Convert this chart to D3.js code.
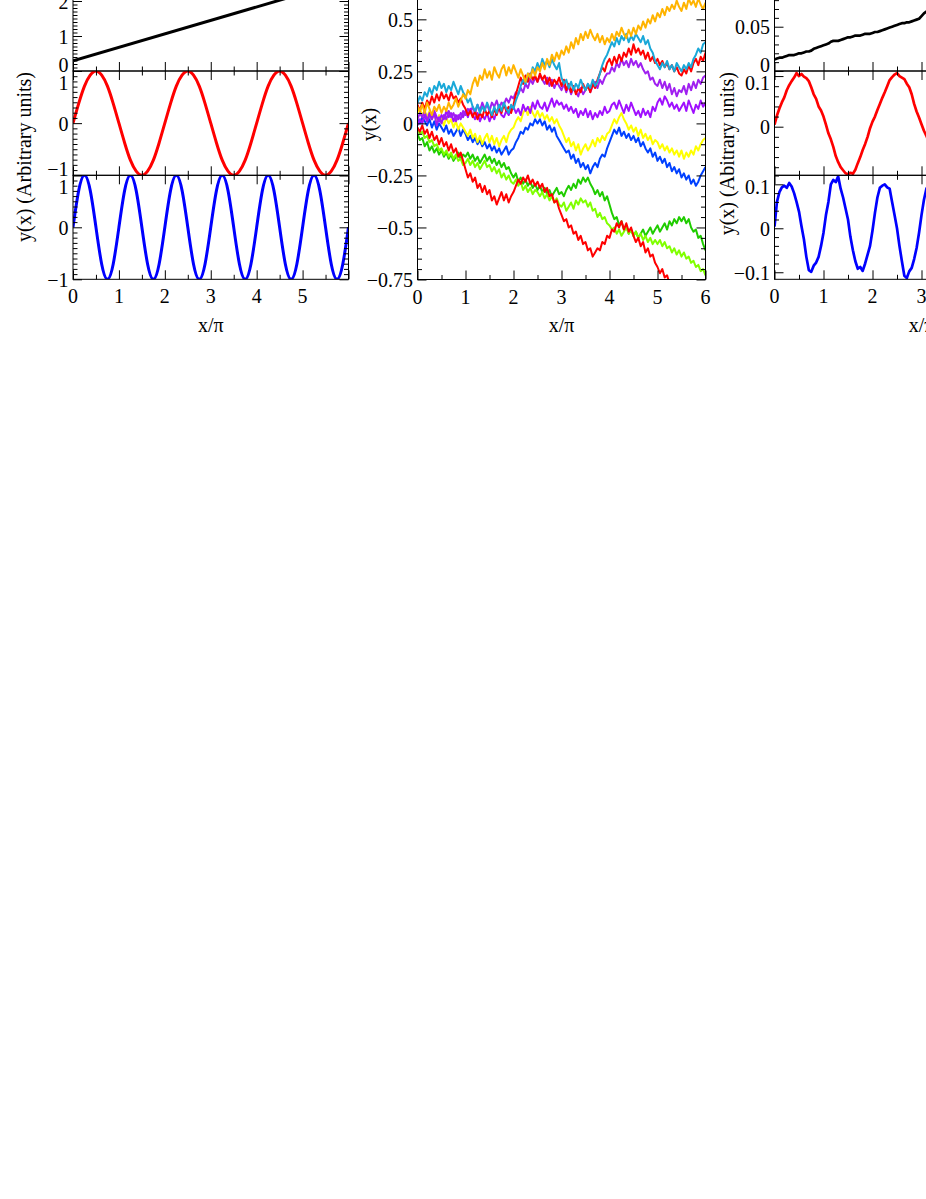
<!DOCTYPE html>
<html><head><meta charset="utf-8">
<script src="https://cdn.jsdelivr.net/npm/d3@7"></script>
<style>
body{margin:0;background:#fff}
svg{display:block}
text{font-family:"Liberation Serif","Times New Roman",serif;font-size:20px;fill:#000}
</style>
</head><body>
<svg id="c" width="926" height="1199"></svg>
<script>
// ================= DATA =================
// Left panel (x in units of pi), sampled every 0.125
const leftStep = 0.125;
const leftBlackX = [0, 6];
const leftBlackY = [0.29, 2.6];
const leftRed = [0,0.38,0.71,0.92,1,0.92,0.71,0.38,0,-0.38,-0.71,-0.92,-1,-0.92,-0.71,-0.38,
                 0,0.38,0.71,0.92,1,0.92,0.71,0.38,0,-0.38,-0.71,-0.92,-1,-0.92,-0.71,-0.38,
                 0,0.38,0.71,0.92,1,0.92,0.71,0.38,0,-0.38,-0.71,-0.92,-1,-0.92,-0.71,-0.38,0];
const leftBlue = [0,0.71,1,0.71,0,-0.71,-1,-0.71, 0,0.71,1,0.71,0,-0.71,-1,-0.71,
                  0,0.71,1,0.71,0,-0.71,-1,-0.71, 0,0.71,1,0.71,0,-0.71,-1,-0.71,
                  0,0.71,1,0.71,0,-0.71,-1,-0.71, 0,0.71,1,0.71,0,-0.71,-1,-0.71,0];

// Middle panel: ten random walks, sampled every 0.05
const walkStep = 0.05;
const walkGreen = [
  -0.05,-0.08,-0.07,-0.11,-0.09,-0.13,-0.11,-0.14,-0.12,-0.15,
  -0.13,-0.16,-0.14,-0.17,-0.15,-0.18,-0.16,-0.14,-0.17,-0.15,
  -0.16,-0.14,-0.17,-0.15,-0.18,-0.16,-0.19,-0.17,-0.15,-0.18,
  -0.16,-0.19,-0.17,-0.20,-0.18,-0.21,-0.19,-0.22,-0.21,-0.24,
  -0.26,-0.24,-0.28,-0.26,-0.29,-0.27,-0.30,-0.28,-0.31,-0.29,
  -0.32,-0.30,-0.33,-0.31,-0.34,-0.32,-0.35,-0.33,-0.31,-0.34,
  -0.33,-0.35,-0.32,-0.30,-0.32,-0.29,-0.31,-0.27,-0.29,-0.26,
  -0.28,-0.26,-0.29,-0.31,-0.34,-0.32,-0.35,-0.33,-0.37,-0.35,
  -0.39,-0.43,-0.46,-0.45,-0.49,-0.47,-0.51,-0.49,-0.53,-0.51,
  -0.54,-0.52,-0.55,-0.53,-0.51,-0.54,-0.52,-0.50,-0.53,-0.51,
  -0.49,-0.52,-0.50,-0.48,-0.51,-0.47,-0.49,-0.46,-0.48,-0.45,
  -0.47,-0.45,-0.48,-0.46,-0.50,-0.52,-0.51,-0.55,-0.54,-0.58,-0.61];
const walkLightGreen = [
  -0.03,-0.05,-0.04,-0.07,-0.06,-0.09,-0.08,-0.11,-0.10,-0.13,
  -0.12,-0.15,-0.13,-0.16,-0.14,-0.17,-0.15,-0.18,-0.17,-0.20,
  -0.19,-0.17,-0.20,-0.18,-0.21,-0.19,-0.22,-0.20,-0.18,-0.21,
  -0.20,-0.23,-0.21,-0.24,-0.22,-0.26,-0.24,-0.27,-0.25,-0.28,
  -0.29,-0.27,-0.30,-0.28,-0.32,-0.30,-0.33,-0.31,-0.34,-0.32,
  -0.33,-0.35,-0.33,-0.36,-0.34,-0.37,-0.35,-0.38,-0.36,-0.39,
  -0.40,-0.38,-0.42,-0.40,-0.38,-0.41,-0.37,-0.39,-0.36,-0.38,
  -0.37,-0.40,-0.38,-0.42,-0.41,-0.45,-0.43,-0.46,-0.45,-0.48,
  -0.49,-0.51,-0.50,-0.53,-0.51,-0.54,-0.52,-0.50,-0.53,-0.51,
  -0.54,-0.52,-0.55,-0.53,-0.56,-0.54,-0.57,-0.55,-0.58,-0.56,
  -0.58,-0.56,-0.59,-0.57,-0.60,-0.59,-0.62,-0.60,-0.63,-0.61,
  -0.64,-0.62,-0.65,-0.64,-0.67,-0.66,-0.69,-0.68,-0.71,-0.70,-0.73];
const walkRedLow = [
  -0.02,-0.04,-0.01,-0.05,-0.03,-0.07,-0.04,-0.08,-0.06,-0.10,
  -0.07,-0.11,-0.09,-0.13,-0.10,-0.14,-0.12,-0.16,-0.14,-0.18,
  -0.22,-0.26,-0.24,-0.28,-0.26,-0.31,-0.29,-0.33,-0.30,-0.34,
  -0.32,-0.37,-0.35,-0.39,-0.36,-0.33,-0.37,-0.34,-0.38,-0.35,
  -0.33,-0.30,-0.27,-0.29,-0.26,-0.28,-0.25,-0.29,-0.27,-0.30,
  -0.28,-0.31,-0.29,-0.33,-0.31,-0.35,-0.34,-0.38,-0.37,-0.41,
  -0.44,-0.47,-0.46,-0.50,-0.49,-0.53,-0.52,-0.56,-0.54,-0.58,
  -0.57,-0.61,-0.60,-0.64,-0.62,-0.60,-0.61,-0.57,-0.58,-0.54,
  -0.55,-0.51,-0.52,-0.48,-0.50,-0.47,-0.51,-0.48,-0.52,-0.50,
  -0.54,-0.57,-0.55,-0.59,-0.57,-0.62,-0.60,-0.64,-0.63,-0.67,
  -0.69,-0.72,-0.70,-0.74,-0.73,-0.77,-0.76,-0.80,-0.79,-0.83,
  -0.82,-0.86,-0.85,-0.88,-0.87,-0.90,-0.89,-0.92,-0.91,-0.94,-0.95];
const walkBlue = [
  0.02,0.00,0.03,0.01,-0.01,0.02,-0.02,0.01,-0.03,0.00,
  -0.02,-0.04,-0.01,-0.05,-0.03,-0.06,-0.04,-0.02,-0.06,-0.03,
  -0.05,-0.08,-0.06,-0.09,-0.07,-0.10,-0.08,-0.11,-0.09,-0.12,
  -0.10,-0.13,-0.11,-0.14,-0.12,-0.15,-0.13,-0.11,-0.15,-0.13,
  -0.12,-0.09,-0.07,-0.04,-0.05,-0.02,-0.03,0.00,-0.01,0.02,
  0.00,0.02,-0.01,0.01,-0.03,-0.01,-0.04,-0.02,-0.06,-0.08,
  -0.10,-0.12,-0.14,-0.13,-0.17,-0.15,-0.19,-0.17,-0.21,-0.19,
  -0.22,-0.20,-0.24,-0.21,-0.19,-0.21,-0.17,-0.15,-0.16,-0.12,
  -0.09,-0.06,-0.03,-0.05,-0.02,-0.06,-0.04,-0.07,-0.05,-0.08,
  -0.06,-0.09,-0.07,-0.11,-0.09,-0.12,-0.14,-0.12,-0.16,-0.14,
  -0.18,-0.16,-0.19,-0.17,-0.21,-0.19,-0.23,-0.21,-0.24,-0.22,
  -0.26,-0.24,-0.27,-0.25,-0.29,-0.27,-0.30,-0.28,-0.25,-0.23,-0.21];
const walkYellow = [
  0.05,0.07,0.04,0.06,0.03,0.06,0.02,0.05,0.01,0.04,
  0.02,-0.01,0.03,0.00,0.02,-0.02,0.01,-0.03,0.00,-0.02,
  -0.04,-0.06,-0.03,-0.07,-0.05,-0.09,-0.06,-0.10,-0.07,-0.05,
  -0.09,-0.06,-0.10,-0.07,-0.11,-0.08,-0.06,-0.09,-0.05,-0.03,
  -0.02,0.01,0.03,0.01,0.05,0.07,0.04,0.08,0.05,0.03,
  0.06,0.03,0.05,0.02,0.04,0.01,0.03,0.00,0.02,-0.01,
  -0.03,-0.06,-0.09,-0.07,-0.11,-0.09,-0.13,-0.10,-0.15,-0.12,
  -0.10,-0.13,-0.11,-0.08,-0.11,-0.07,-0.09,-0.06,-0.08,-0.05,
  -0.04,-0.01,0.02,0.00,0.03,0.05,0.02,0.00,-0.03,-0.01,
  -0.04,-0.02,-0.06,-0.03,-0.07,-0.05,-0.08,-0.06,-0.10,-0.08,
  -0.09,-0.12,-0.10,-0.13,-0.11,-0.14,-0.12,-0.15,-0.13,-0.16,
  -0.13,-0.17,-0.14,-0.16,-0.13,-0.15,-0.11,-0.13,-0.10,-0.08,-0.07];
const walkPurpleLow = [
  -0.01,0.02,0.00,0.04,0.01,0.05,0.02,0.06,0.03,0.01,
  0.04,0.02,0.06,0.03,0.05,0.01,0.04,0.02,0.05,0.03,
  0.06,0.03,0.07,0.04,0.02,0.05,0.01,0.04,0.02,0.05,
  0.01,0.04,0.02,0.06,0.07,0.04,0.03,0.06,0.04,0.07,
  0.08,0.05,0.07,0.04,0.09,0.06,0.08,0.05,0.10,0.07,
  0.11,0.08,0.07,0.10,0.06,0.09,0.12,0.08,0.11,0.09,
  0.10,0.07,0.09,0.06,0.08,0.05,0.07,0.03,0.06,0.04,
  0.07,0.03,0.06,0.02,0.05,0.03,0.06,0.04,0.08,0.05,
  0.06,0.09,0.10,0.07,0.11,0.08,0.05,0.09,0.06,0.10,
  0.07,0.04,0.06,0.03,0.07,0.04,0.06,0.03,0.08,0.06,
  0.10,0.12,0.09,0.13,0.11,0.08,0.10,0.07,0.09,0.06,
  0.08,0.10,0.06,0.11,0.08,0.05,0.09,0.07,0.11,0.08,0.10];
const walkPurpleHigh = [
  0.02,0.05,0.03,0.06,0.01,0.04,0.02,0.05,-0.01,0.03,
  0.00,0.04,0.02,0.06,0.03,0.05,0.01,0.04,0.02,0.06,
  0.04,0.07,0.05,0.08,0.05,0.09,0.06,0.10,0.07,0.09,
  0.06,0.10,0.08,0.11,0.07,0.10,0.09,0.12,0.10,0.13,
  0.12,0.15,0.14,0.17,0.15,0.19,0.17,0.21,0.19,0.22,
  0.20,0.23,0.21,0.19,0.22,0.18,0.21,0.17,0.20,0.18,
  0.16,0.19,0.15,0.18,0.14,0.17,0.15,0.13,0.17,0.14,
  0.16,0.19,0.15,0.18,0.20,0.17,0.21,0.19,0.22,0.24,
  0.24,0.27,0.25,0.29,0.27,0.31,0.28,0.30,0.27,0.31,
  0.28,0.30,0.27,0.29,0.26,0.24,0.25,0.21,0.22,0.19,
  0.18,0.21,0.17,0.20,0.16,0.19,0.14,0.17,0.13,0.16,
  0.15,0.18,0.14,0.19,0.16,0.20,0.17,0.21,0.19,0.22,0.23];
const walkRedHigh = [
  0.09,0.06,0.10,0.07,0.11,0.09,0.13,0.10,0.14,0.11,
  0.15,0.12,0.14,0.11,0.15,0.12,0.13,0.10,0.12,0.09,
  0.07,0.04,0.06,0.03,0.06,0.02,0.05,0.03,0.07,0.04,
  0.06,0.03,0.07,0.04,0.08,0.05,0.09,0.06,0.08,0.05,
  0.09,0.14,0.18,0.22,0.19,0.23,0.20,0.24,0.21,0.23,
  0.20,0.24,0.21,0.23,0.19,0.22,0.18,0.21,0.19,0.22,
  0.18,0.21,0.16,0.19,0.15,0.18,0.14,0.17,0.15,0.19,
  0.16,0.18,0.15,0.19,0.17,0.21,0.24,0.27,0.25,0.29,
  0.31,0.28,0.32,0.29,0.33,0.30,0.34,0.32,0.36,0.33,
  0.38,0.34,0.36,0.33,0.35,0.31,0.34,0.30,0.32,0.29,
  0.31,0.28,0.30,0.27,0.29,0.26,0.28,0.25,0.27,0.24,
  0.23,0.26,0.24,0.28,0.25,0.29,0.31,0.28,0.32,0.30,0.34];
const walkCyan = [
  0.10,0.13,0.11,0.15,0.13,0.17,0.14,0.18,0.16,0.20,
  0.17,0.19,0.15,0.18,0.16,0.20,0.17,0.14,0.18,0.15,
  0.13,0.10,0.12,0.08,0.06,0.09,0.05,0.08,0.06,0.10,
  0.07,0.04,0.08,0.05,0.09,0.06,0.10,0.07,0.05,0.09,
  0.07,0.11,0.14,0.18,0.21,0.19,0.24,0.22,0.27,0.25,
  0.29,0.26,0.31,0.28,0.30,0.27,0.31,0.28,0.26,0.29,
  0.22,0.19,0.21,0.17,0.20,0.16,0.19,0.17,0.21,0.18,
  0.16,0.19,0.17,0.21,0.18,0.20,0.24,0.28,0.31,0.33,
  0.36,0.39,0.37,0.41,0.38,0.42,0.40,0.43,0.39,0.42,
  0.40,0.43,0.41,0.39,0.42,0.38,0.40,0.36,0.34,0.30,
  0.28,0.26,0.29,0.27,0.30,0.26,0.28,0.25,0.29,0.27,
  0.25,0.28,0.26,0.29,0.27,0.31,0.33,0.36,0.34,0.38,0.39];
const walkOrange = [
  0.08,0.06,0.09,0.05,0.10,0.07,0.04,0.08,0.06,0.09,
  0.05,0.08,0.06,0.10,0.07,0.09,0.12,0.08,0.11,0.14,
  0.12,0.16,0.14,0.19,0.22,0.18,0.23,0.21,0.26,0.22,
  0.25,0.21,0.27,0.24,0.22,0.26,0.28,0.23,0.27,0.24,
  0.28,0.25,0.22,0.26,0.23,0.20,0.24,0.22,0.26,0.23,
  0.27,0.25,0.29,0.26,0.31,0.28,0.33,0.30,0.34,0.31,
  0.35,0.33,0.37,0.34,0.39,0.36,0.41,0.38,0.43,0.40,
  0.44,0.41,0.45,0.42,0.40,0.43,0.39,0.42,0.38,0.41,
  0.39,0.43,0.40,0.44,0.42,0.46,0.43,0.41,0.45,0.42,
  0.46,0.43,0.47,0.45,0.49,0.46,0.50,0.48,0.52,0.49,
  0.53,0.51,0.55,0.52,0.56,0.54,0.57,0.55,0.59,0.56,
  0.54,0.58,0.55,0.60,0.57,0.59,0.56,0.60,0.57,0.55,0.58];
const walkColors = ["#20cc00","#80ff00","#ff0000","#0040ff","#ffff00","#a010ff","#a020f0","#ff0000","#1aa8d8","#ffb400"];

// Right panel: noisy versions (visible part, x up to ~3.2), sampled every 0.05
const rightStep = 0.05;
const rightBlack = [
  0.013,0.014,0.015,0.015,0.016,0.017,0.018,0.018,0.018,0.019,
  0.020,0.020,0.021,0.022,0.022,0.023,0.025,0.026,0.027,0.028,
  0.029,0.030,0.031,0.033,0.034,0.034,0.034,0.035,0.036,0.037,
  0.038,0.038,0.039,0.040,0.040,0.040,0.041,0.042,0.042,0.042,
  0.043,0.044,0.044,0.045,0.046,0.047,0.048,0.049,0.050,0.051,
  0.052,0.053,0.054,0.054,0.055,0.055,0.056,0.057,0.058,0.059,
  0.062,0.065,0.067,0.069,0.070];
const rightRed = [
  0.004,0.022,0.036,0.048,0.058,0.072,0.082,0.090,0.097,0.106,
  0.100,0.104,0.099,0.096,0.090,0.078,0.064,0.055,0.040,0.032,
  0.020,0.004,-0.013,-0.025,-0.040,-0.058,-0.070,-0.080,-0.086,-0.092,
  -0.094,-0.091,-0.093,-0.085,-0.072,-0.060,-0.046,-0.034,-0.020,-0.003,
  0.010,0.020,0.033,0.045,0.057,0.068,0.080,0.092,0.098,0.103,
  0.106,0.100,0.097,0.094,0.085,0.078,0.064,0.045,0.030,0.018,
  0.005,-0.008,-0.018,-0.030,-0.042];
const rightBlue = [
  0.004,0.060,0.082,0.093,0.097,0.092,0.103,0.095,0.080,0.060,
  0.038,0.005,-0.025,-0.065,-0.095,-0.099,-0.085,-0.078,-0.065,-0.040,
  -0.010,0.030,0.060,0.100,0.110,0.105,0.118,0.090,0.070,0.045,
  0.020,-0.020,-0.050,-0.075,-0.092,-0.088,-0.097,-0.080,-0.060,-0.040,
  -0.005,0.035,0.070,0.092,0.097,0.100,0.093,0.090,0.060,0.030,
  0.000,-0.040,-0.075,-0.108,-0.113,-0.098,-0.090,-0.070,-0.045,-0.010,
  0.030,0.065,0.090,0.100,0.098];

const xTickLabelsLeft = [0,1,2,3,4,5];
const xTickLabelsMid = [0,1,2,3,4,5,6];
const xTickLabelsRight = [0,1,2,3];
const yTitleLeft = "y(x) (Arbitrary units)";
const yTitleMid = "y(x)";
const yTitleRight = "y(x) (Abitrary units)";
const xTitle = "x/\u03c0";

// ================= DRAWING =================
const svg = d3.select("#c");
svg.append("rect").attr("width",926).attr("height",1199).attr("fill","#fff");
const fmt = d3.format("~g");
let clipCount = 0;

function tickVals(domain, step) {
  const lo = Math.min(domain[0], domain[1]), hi = Math.max(domain[0], domain[1]);
  const out = [];
  for (let k = Math.ceil(lo / step - 1e-6); k <= Math.floor(hi / step + 1e-6); k++) out.push(+(k * step).toFixed(6));
  return out;
}
function splitTicks(domain, major, minor) {
  const M = tickVals(domain, major);
  const m = tickVals(domain, minor).filter(v => !M.some(w => Math.abs(w - v) < 1e-9));
  return [M, m];
}
function tickMarks(g, axisFn, scale, tx, ty, vals, size) {
  const a = g.append("g").attr("transform", `translate(${tx},${ty})`)
    .call(axisFn(scale).tickValues(vals).tickSize(-size).tickFormat(""));
  a.select(".domain").remove();
  a.selectAll("text").remove();
  a.selectAll("line").attr("stroke", "#000").attr("stroke-width", 1);
}

function panel(cfg) {
  const x = d3.scaleLinear().domain(cfg.xDomain).range([cfg.x0, cfg.x1]);
  const [xM, xm] = splitTicks(cfg.xDomain, 1, 0.5);
  const n = cfg.subplots.length;
  cfg.subplots.forEach((sp, i) => {
    const y = d3.scaleLinear().domain(sp.domain).range([sp.bottom, sp.top]);
    const g = svg.append("g");
    const id = "clip" + (clipCount++);
    svg.append("clipPath").attr("id", id).append("rect")
      .attr("x", cfg.x0).attr("y", sp.top).attr("width", cfg.x1 - cfg.x0).attr("height", sp.bottom - sp.top);
    const lines = g.append("g").attr("clip-path", `url(#${id})`);
    sp.series.forEach(s => {
      const line = d3.line()
        .x((d, j) => x(s.xs ? s.xs[j] : j * s.step))
        .y(d => y(d))
        .curve(s.curve || d3.curveLinear);
      lines.append("path").datum(s.values).attr("d", line)
        .attr("fill", "none").attr("stroke", s.color).attr("stroke-width", s.width)
        .attr("stroke-linejoin", "round").attr("stroke-linecap", "butt");
    });
    // frame
    g.append("rect").attr("x", cfg.x0).attr("y", sp.top).attr("width", cfg.x1 - cfg.x0)
      .attr("height", sp.bottom - sp.top).attr("fill", "none").attr("stroke", "#000").attr("stroke-width", 1);
    // x ticks (bottom and top, inward)
    tickMarks(g, d3.axisBottom, x, 0, sp.bottom, xM, 9);
    tickMarks(g, d3.axisBottom, x, 0, sp.bottom, xm, 4.5);
    tickMarks(g, d3.axisTop, x, 0, sp.top, xM, 9);
    tickMarks(g, d3.axisTop, x, 0, sp.top, xm, 4.5);
    // y ticks (left and right, inward)
    const [yM, ym] = splitTicks(sp.domain, sp.major, sp.minor);
    tickMarks(g, d3.axisLeft, y, cfg.x0, 0, yM, 9);
    tickMarks(g, d3.axisLeft, y, cfg.x0, 0, ym, 4.5);
    tickMarks(g, d3.axisRight, y, cfg.x1, 0, yM, 9);
    tickMarks(g, d3.axisRight, y, cfg.x1, 0, ym, 4.5);
    // y labels (edge labels are pulled inside their own pad)
    yM.forEach(v => {
      let base = y(v) + 7.5;
      if (i > 0) base = Math.max(base, sp.top + 19);
      if (i < n - 1) base = Math.min(base, sp.bottom + 0.5);
      if (base < 3) return; // outside the visible page
      g.append("text").attr("x", cfg.x0 - 4.5).attr("y", base)
        .attr("text-anchor", "end").text(fmt(v));
    });
    if (i === n - 1) {
      cfg.xLabels.forEach(v => {
        g.append("text").attr("x", x(v)).attr("y", sp.bottom + 24)
          .attr("text-anchor", "middle").text(fmt(v));
      });
      g.append("text").attr("x", (cfg.x0 + cfg.x1) / 2).attr("y", 331.5)
        .attr("text-anchor", "middle").text(xTitle);
    }
  });
  svg.append("text").attr("text-anchor", cfg.titleAnchor)
    .attr("transform", `translate(${cfg.titleX},${cfg.titleY}) rotate(-90)`).text(cfg.yTitle);
}

// Left panel
panel({
  x0: 73, x1: 348.5, xDomain: [0, 6], xLabels: xTickLabelsLeft,
  yTitle: yTitleLeft, titleX: 30.6, titleY: 72, titleAnchor: "end",
  subplots: [
    {top: -34, bottom: 71, domain: [0, 3], major: 1, minor: 0.1,
     series: [{xs: leftBlackX, values: leftBlackY, color: "#000", width: 3}]},
    {top: 71, bottom: 175.3, domain: [-1, 1], major: 1, minor: 0.1,
     series: [{step: leftStep, values: leftRed, color: "#ff0000", width: 3, curve: d3.curveNatural}]},
    {top: 175.3, bottom: 279.3, domain: [-1, 1], major: 1, minor: 0.1,
     series: [{step: leftStep, values: leftBlue, color: "#0000ff", width: 3, curve: d3.curveNatural}]}
  ]
});

// Middle panel
const walks = [walkGreen, walkLightGreen, walkRedLow, walkBlue, walkYellow, walkPurpleLow, walkPurpleHigh, walkRedHigh, walkCyan, walkOrange];
panel({
  x0: 417.5, x1: 705.5, xDomain: [0, 6], xLabels: xTickLabelsMid,
  yTitle: yTitleMid, titleX: 375.6, titleY: 124.5, titleAnchor: "middle",
  subplots: [
    {top: -32.7, bottom: 279.5, domain: [-0.75, 0.75], major: 0.25, minor: 0.05,
     series: walks.map((w, k) => ({step: walkStep, values: w, color: walkColors[k], width: 2}))}
  ]
});

// Right panel
panel({
  x0: 774.5, x1: 1068.5, xDomain: [0, 6], xLabels: xTickLabelsRight,
  yTitle: yTitleRight, titleX: 734, titleY: 72, titleAnchor: "end",
  subplots: [
    {top: -33, bottom: 71, domain: [0, 0.1174], major: 0.05, minor: 0.01,
     series: [{step: rightStep, values: rightBlack, color: "#000", width: 2.7}]},
    {top: 71, bottom: 175.3, domain: [-0.096, 0.110], major: 0.1, minor: 0.02,
     series: [{step: rightStep, values: rightRed, color: "#ff0000", width: 2.7}]},
    {top: 175.3, bottom: 279.3, domain: [-0.116, 0.1205], major: 0.1, minor: 0.02,
     series: [{step: rightStep, values: rightBlue, color: "#0000ff", width: 2.7}]}
  ]
});
</script>
</body></html>
